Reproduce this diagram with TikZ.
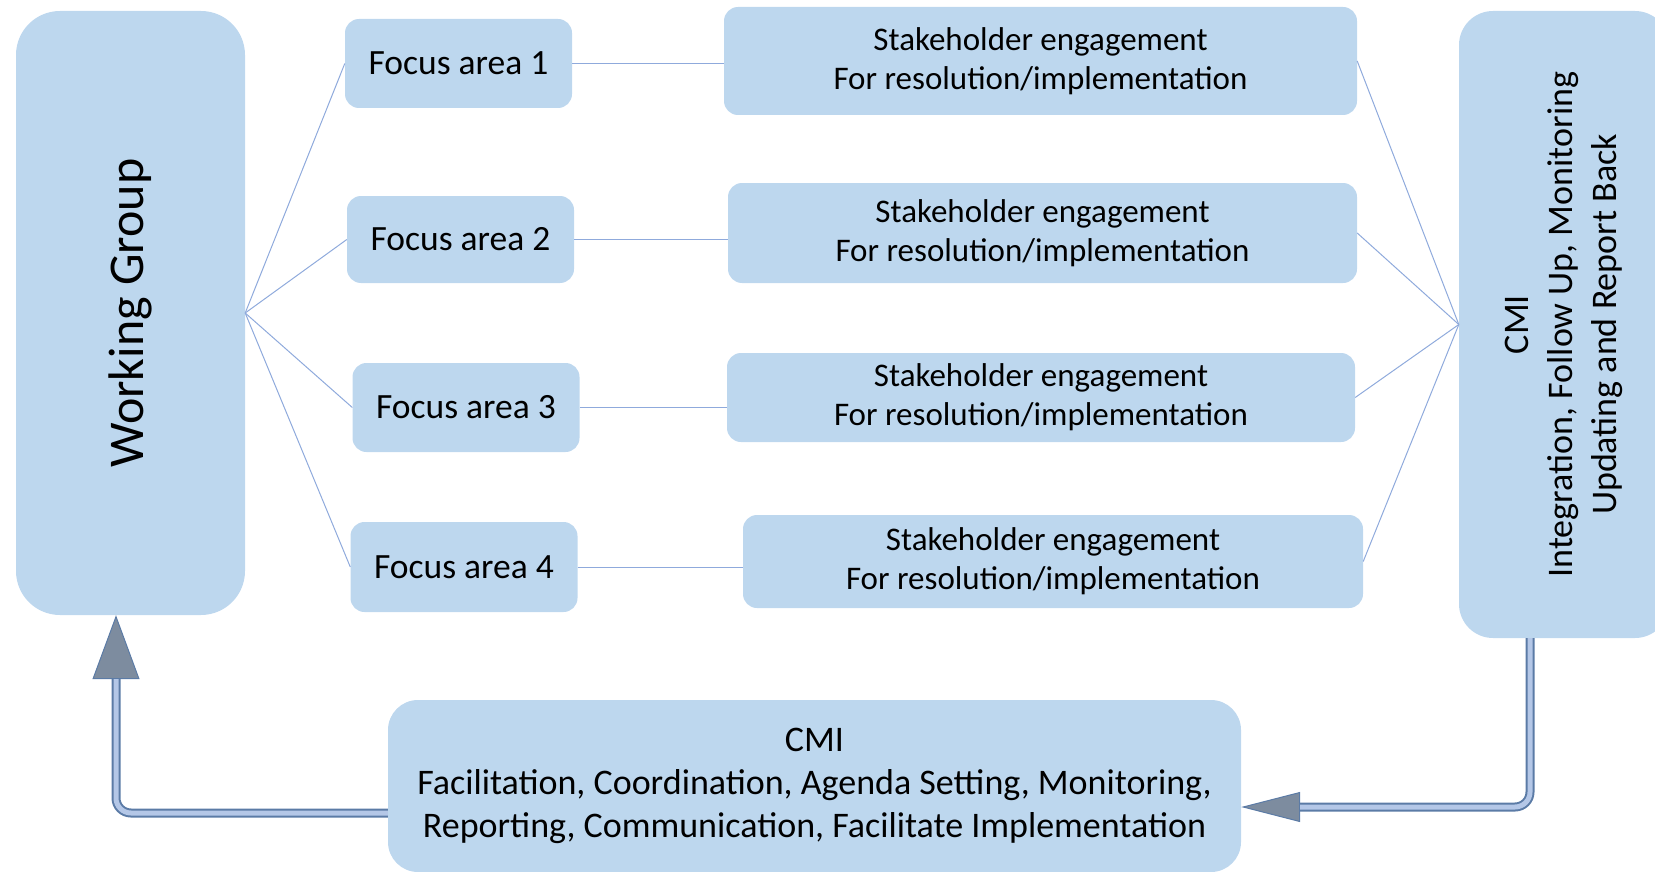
\documentclass[tikz,border=0pt]{standalone}
\usepackage{fontspec}
\setmainfont{Carlito}
\usetikzlibrary{arrows.meta}
\definecolor{boxblue}{HTML}{BDD7EE}
\definecolor{linkblue}{HTML}{8FAADC}
\definecolor{pipeedge}{HTML}{5B7BA6}
\definecolor{pipefill}{HTML}{B4C7E7}
\definecolor{headgray}{HTML}{7D8C9F}
\tikzset{
  box/.style={fill=boxblue, rounded corners=14pt, align=center, inner sep=0pt},
  focus/.style={box, minimum width=227pt, minimum height=89pt, font=\fontsize{35.5}{42}\selectfont},
  stake/.style={box, minimum width=630pt, font=\fontsize{33}{39}\selectfont},
  link/.style={draw=linkblue, line width=1pt},
  pipe/.style={line width=9pt, draw=pipeedge, rounded corners=15pt,
    postaction={draw=pipefill, line width=5pt, -, shorten >=#1}}
}
\begin{document}
\begin{tikzpicture}[x=1pt,y=-1pt]
  \useasboundingbox (0,0) rectangle (1655,872);
  \node[box, rounded corners=44pt, minimum width=229pt, minimum height=604pt,
    font=\fontsize{50}{58}\selectfont] (wg) at (130.5,313) {\rotatebox{90}{Working Group}};
  \node[focus] (fa1) at (458.5,63.5) {Focus area 1};
  \node[focus, minimum height=87pt] (fa2) at (460.5,239.5) {Focus area 2};
  \node[focus] (fa3) at (466,407.5) {Focus area 3};
  \node[focus, minimum height=90pt] (fa4) at (464,567) {Focus area 4};
  \node[stake, minimum width=633pt, minimum height=108pt] (se1) at (1040.5,61)
    {Stakeholder engagement\\For resolution/implementation};
  \node[stake, minimum width=629pt, minimum height=100pt] (se2) at (1042.5,233)
    {Stakeholder engagement\\For resolution/implementation};
  \node[stake, minimum width=628pt, minimum height=89pt] (se3) at (1041,397.5)
    {Stakeholder engagement\\For resolution/implementation};
  \node[stake, minimum width=620pt, minimum height=93pt] (se4) at (1053,561.5)
    {Stakeholder engagement\\For resolution/implementation};
  \node[box, rounded corners=34pt, minimum width=210pt, minimum height=627pt,
    font=\fontsize{36}{44}\selectfont] (cmir) at (1564,324.5)
    {\rotatebox{90}{\begin{tabular}{@{}c@{}}CMI\\Integration, Follow Up, Monitoring\\Updating and Report Back\end{tabular}}};
  \node[box, rounded corners=30pt, minimum width=853pt, minimum height=172pt,
    font=\fontsize{36}{43}\selectfont] (cmib) at (814.5,786)
    {CMI\\Facilitation, Coordination, Agenda Setting, Monitoring,\\Reporting, Communication, Facilitate Implementation};
  \foreach \i in {1,...,4} {
    \draw[link] (wg.east) -- (fa\i.west);
    \draw[link] (fa\i.east) -- (fa\i.east -| se\i.west);
    \draw[link] (se\i.east) -- (cmir.west);
  }
  \draw[pipe=64pt, -{Triangle[length=64pt, width=47pt, fill=headgray, line width=1pt]}]
    ([yshift=-27pt]cmib.west) -| ([xshift=-14.5pt]wg.south);
  \draw[pipe=59pt, -{Triangle[length=59pt, width=30pt, fill=headgray, line width=1pt]}]
    ([xshift=-34pt]cmir.south) |- ([yshift=-21pt]cmib.east);
\end{tikzpicture}
\end{document}
